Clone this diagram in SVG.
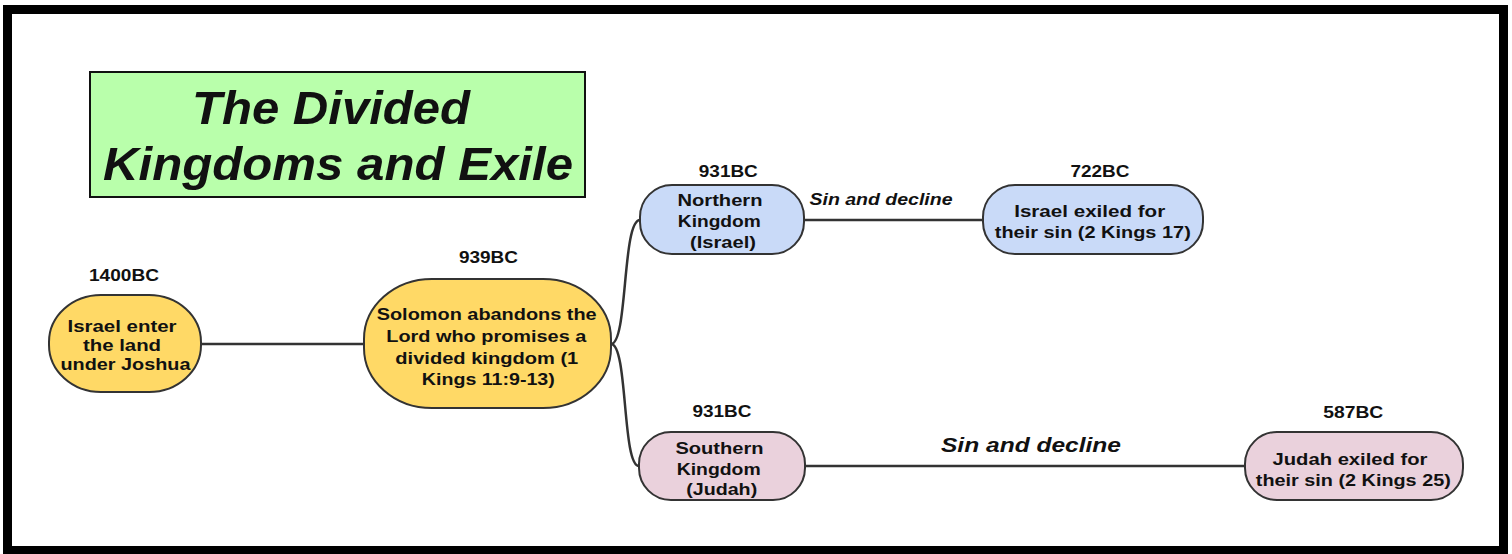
<svg xmlns="http://www.w3.org/2000/svg" width="1512" height="554" viewBox="0 0 1512 554">
<style>
.t{font-family:"Liberation Sans",Arial,sans-serif;font-weight:bold;font-size:17px;fill:#111;text-anchor:middle}
.lb{font-family:"Liberation Sans",Arial,sans-serif;font-weight:bold;font-style:italic;fill:#111;text-anchor:middle}
.n{stroke:#333;stroke-width:2}
.c{fill:none;stroke:#333;stroke-width:2.5}
</style>
<rect x="0" y="0" width="1512" height="554" fill="#fff"/>
<rect x="7.5" y="9.5" width="1496" height="541" fill="#fff" stroke="#000" stroke-width="9"/>
<g id="title">
<rect x="90" y="72" width="495" height="125" fill="#b9ffab" stroke="#111" stroke-width="2"/>
<text class="lb" x="331" y="124" font-size="47" textLength="278" lengthAdjust="spacingAndGlyphs">The Divided</text>
<text class="lb" x="338" y="180" font-size="47" textLength="470" lengthAdjust="spacingAndGlyphs">Kingdoms and Exile</text>
</g>
<g id="connectors">
<path class="c" d="M201,344 H364"/>
<path class="c" d="M611,344 C628,344 622,220 640,220"/>
<path class="c" d="M611,344 C628,344 622,466 639,466"/>
<path class="c" d="M804,220 H983"/>
<path class="c" d="M805,466 H1245"/>
<text class="lb" x="881" y="205" font-size="16" textLength="143" lengthAdjust="spacingAndGlyphs">Sin and decline</text>
<text class="lb" x="1031" y="452" font-size="21" textLength="180" lengthAdjust="spacingAndGlyphs">Sin and decline</text>
</g>
<g id="n1400">
<text class="t" x="124" y="281" textLength="70" lengthAdjust="spacingAndGlyphs">1400BC</text>
<rect class="n" x="49" y="295" width="152" height="97" rx="52" ry="47" fill="#ffd966"/>
<text class="t" x="122" y="332" textLength="109" lengthAdjust="spacingAndGlyphs">Israel enter</text>
<text class="t" x="122" y="351" textLength="78" lengthAdjust="spacingAndGlyphs">the land</text>
<text class="t" x="125.5" y="369.5" textLength="130" lengthAdjust="spacingAndGlyphs">under Joshua</text>
</g>
<g id="n939">
<text class="t" x="488.5" y="263" textLength="59" lengthAdjust="spacingAndGlyphs">939BC</text>
<rect class="n" x="364" y="279" width="247" height="129" rx="68" ry="60" fill="#ffd966"/>
<text class="t" x="486.7" y="320" textLength="220" lengthAdjust="spacingAndGlyphs">Solomon abandons the</text>
<text class="t" x="486.3" y="342" textLength="200" lengthAdjust="spacingAndGlyphs">Lord who promises a</text>
<text class="t" x="486.8" y="363.5" textLength="183" lengthAdjust="spacingAndGlyphs">divided kingdom (1</text>
<text class="t" x="488.3" y="385" textLength="133" lengthAdjust="spacingAndGlyphs">Kings 11:9-13)</text>
</g>
<g id="nNorth">
<text class="t" x="728.3" y="177" textLength="59" lengthAdjust="spacingAndGlyphs">931BC</text>
<rect class="n" x="640" y="185" width="164" height="69" rx="32" fill="#c9daf8"/>
<text class="t" x="720" y="206" textLength="85" lengthAdjust="spacingAndGlyphs">Northern</text>
<text class="t" x="719.3" y="227" textLength="83" lengthAdjust="spacingAndGlyphs">Kingdom</text>
<text class="t" x="723" y="247.5" textLength="66" lengthAdjust="spacingAndGlyphs">(Israel)</text>
</g>
<g id="n722">
<text class="t" x="1100" y="177" textLength="59" lengthAdjust="spacingAndGlyphs">722BC</text>
<rect class="n" x="983" y="185" width="220" height="69" rx="32" fill="#c9daf8"/>
<text class="t" x="1089.7" y="217" textLength="151" lengthAdjust="spacingAndGlyphs">Israel exiled for</text>
<text class="t" x="1092.8" y="237.5" textLength="196" lengthAdjust="spacingAndGlyphs">their sin (2 Kings 17)</text>
</g>
<g id="nSouth">
<text class="t" x="722" y="417" textLength="59" lengthAdjust="spacingAndGlyphs">931BC</text>
<rect class="n" x="639" y="432" width="166" height="68" rx="32" fill="#ead1dc"/>
<text class="t" x="719.5" y="453.5" textLength="88" lengthAdjust="spacingAndGlyphs">Southern</text>
<text class="t" x="718.7" y="474.5" textLength="84" lengthAdjust="spacingAndGlyphs">Kingdom</text>
<text class="t" x="721.7" y="495" textLength="71" lengthAdjust="spacingAndGlyphs">(Judah)</text>
</g>
<g id="n587">
<text class="t" x="1353.3" y="417.5" textLength="60" lengthAdjust="spacingAndGlyphs">587BC</text>
<rect class="n" x="1245" y="432" width="218" height="68" rx="32" fill="#ead1dc"/>
<text class="t" x="1350" y="465" textLength="155" lengthAdjust="spacingAndGlyphs">Judah exiled for</text>
<text class="t" x="1353.3" y="485.5" textLength="195" lengthAdjust="spacingAndGlyphs">their sin (2 Kings 25)</text>
</g>
</svg>
